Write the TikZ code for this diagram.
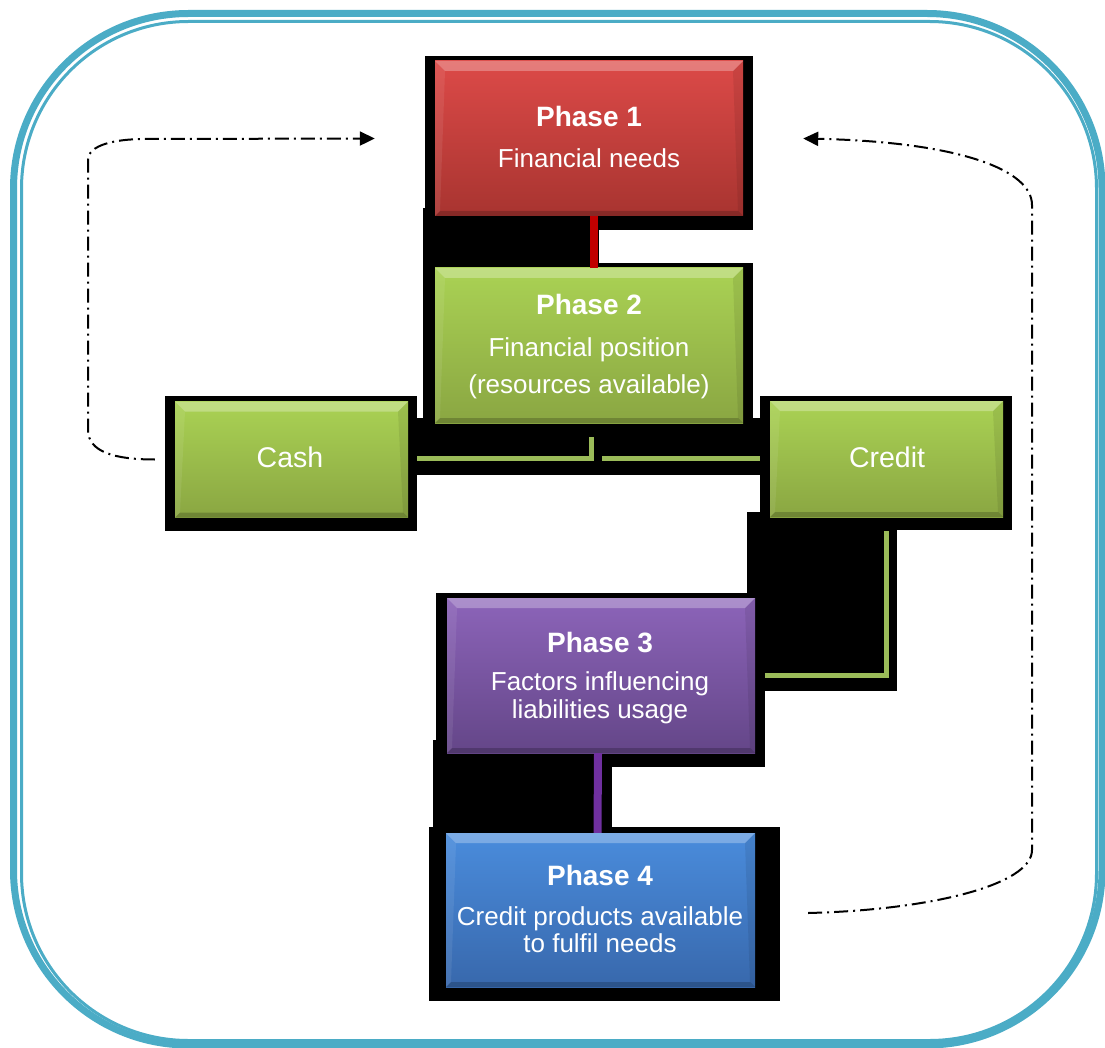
\documentclass[tikz,border=0pt]{standalone}
\usepackage{fontspec}
\setmainfont{Liberation Sans}
\usetikzlibrary{arrows.meta}

\definecolor{frameteal}{RGB}{75,172,198}
\definecolor{redtop}{RGB}{220,74,72}
\definecolor{redbot}{RGB}{168,52,48}
\definecolor{greentop}{RGB}{170,210,84}
\definecolor{greenbot}{RGB}{138,166,66}
\definecolor{purpletop}{RGB}{140,100,185}
\definecolor{purplebot}{RGB}{100,70,136}
\definecolor{bluetop}{RGB}{74,140,220}
\definecolor{bluebot}{RGB}{56,104,172}
\definecolor{linkred}{RGB}{192,0,0}
\definecolor{linkgreen}{RGB}{155,187,89}
\definecolor{linkpurple}{RGB}{112,48,160}

\tikzset{
  bevel/.style={path picture={
    % light top facet
    \fill[white,opacity=0.28] (path picture bounding box.north west) -- (path picture bounding box.north east)
      -- ([shift={(-10pt,-10pt)}]path picture bounding box.north east)
      -- ([shift={(10pt,-10pt)}]path picture bounding box.north west) -- cycle;
    % left facet
    \fill[white,opacity=0.08] (path picture bounding box.north west)
      -- ([shift={(10pt,-10pt)}]path picture bounding box.north west)
      -- ([shift={(5pt,5pt)}]path picture bounding box.south west)
      -- (path picture bounding box.south west) -- cycle;
    % right facet
    \fill[black,opacity=0.08] (path picture bounding box.north east)
      -- ([shift={(-10pt,-10pt)}]path picture bounding box.north east)
      -- ([shift={(-5pt,5pt)}]path picture bounding box.south east)
      -- (path picture bounding box.south east) -- cycle;
    % bottom facet
    \fill[black,opacity=0.2] (path picture bounding box.south west)
      -- ([shift={(5pt,5pt)}]path picture bounding box.south west)
      -- ([shift={(-5pt,5pt)}]path picture bounding box.south east)
      -- (path picture bounding box.south east) -- cycle;
  }},
  phasebox/.style={rectangle, draw=none, inner sep=0pt, minimum width=308pt, minimum height=155pt, bevel},
  smallbox/.style={rectangle, draw=none, inner sep=0pt, minimum width=233pt, minimum height=116pt, bevel},
  redfill/.style={top color=redtop, bottom color=redbot},
  greenfill/.style={top color=greentop, bottom color=greenbot},
  purplefill/.style={top color=purpletop, bottom color=purplebot},
  bluefill/.style={top color=bluetop, bottom color=bluebot},
  boxtext/.style={text=white, inner sep=0pt, anchor=base, font=\fontsize{26}{30}\selectfont},
  boxtitle/.style={text=white, inner sep=0pt, anchor=base, font=\fontsize{28}{32}\selectfont\bfseries},
  labeltext/.style={text=white, inner sep=0pt, anchor=base, font=\fontsize{28.5}{32}\selectfont},
  backdrop/.style={fill=black},
  redlink/.style={draw=linkred, line width=8pt},
  greenlink/.style={draw=linkgreen, line width=5pt},
  purplelink/.style={draw=linkpurple, line width=8pt},
  loopflow/.style={draw=black, line width=2pt, dash pattern=on 14pt off 5pt on 2pt off 5pt,
    -{Triangle[length=15pt,width=14pt]}},
}

\begin{document}
\begin{tikzpicture}[x=1pt,y=-1pt]
\useasboundingbox (0,0) rectangle (1105,1048);
\fill[white] (0,0) rectangle (1105,1048);

% double rounded frame
\draw[frameteal, line width=7pt, rounded corners=175pt] (13.5,13.5) rectangle (1102,1045);
\draw[frameteal, line width=3pt, rounded corners=167pt] (21.5,21.5) rectangle (1096.5,1040.5);

% black backdrops behind boxes and links
\fill[backdrop] (425,56) rectangle (753,230);
\fill[backdrop] (423,208) rectangle (599,268);
\fill[backdrop] (423,263) rectangle (753,430);
\fill[backdrop] (165,396) rectangle (417,531);
\fill[backdrop] (760,396) rectangle (1012,530);
\fill[backdrop] (417,418) rectangle (760,475);
\fill[backdrop] (747,512) rectangle (897,691);
\fill[backdrop] (436,593) rectangle (765,767);
\fill[backdrop] (433,740) rectangle (612,827);
\fill[backdrop] (429,827) rectangle (780,1001);

% boxes
\node[phasebox, redfill] (p1) at (589,138.5) {};
\node[phasebox, greenfill] (p2) at (589,345.5) {};
\node[smallbox, greenfill] (cash) at (291.5,459.5) {};
\node[smallbox, greenfill] (credit) at (886.5,459) {};
\node[phasebox, purplefill] (p3) at (601,675.5) {};
\node[phasebox, bluefill, minimum width=309pt, minimum height=154pt] (p4) at (600.5,910) {};

% box texts
\node[boxtitle] (p1t) at (589,127) {Phase 1};
\node[boxtext] (p1a) at (589,168) {Financial needs};
\node[boxtitle] (p2t) at (589,315) {Phase 2};
\node[boxtext] (p2a) at (589,356) {Financial position};
\node[boxtext] (p2b) at (589,393) {(resources available)};
\node[labeltext] (casht) at (290,467) {Cash};
\node[labeltext] (creditt) at (887,467) {Credit};
\node[boxtitle] (p3t) at (600,652) {Phase 3};
\node[boxtext] (p3a) at (600,690) {Factors influencing};
\node[boxtext] (p3b) at (600,718) {liabilities usage};
\node[boxtitle] (p4t) at (600,885) {Phase 4};
\node[boxtext] (p4a) at (600,925) {Credit products available};
\node[boxtext] (p4b) at (600,952) {to fulfil needs};

% links between boxes
\draw[redlink] ([xshift=5pt]p1.south) -- ([xshift=5pt]p2.north);
\draw[greenlink] ([xshift=9pt,yshift=1.5pt]cash.east) -| ([xshift=2pt,yshift=-14pt]p2.south);
\draw[greenlink] ([xshift=-10pt,yshift=1pt]credit.west) -- ++(-158,0);
\draw[greenlink] ([yshift=-14pt]credit.south) |- ([xshift=10pt]p3.east);
\draw[purplelink] ([xshift=-3pt]p3.south) -- ([xshift=-3pt]p4.north);

% feedback loops back to phase 1
\draw[loopflow] ([xshift=-20pt]cash.west) .. controls (115,459.5) and (88,452) .. (88,430)
  -- (88,160) .. controls (88,145) and (115,139) .. (145,139) -- ([xshift=-60pt]p1.west);
\draw[loopflow] ([xshift=53pt,yshift=-3pt]p4.east) .. controls (930,910) and (1032,885) .. (1032,850)
  -- (1032,205) .. controls (1032,170) and (960,142) .. ([xshift=60pt]p1.east);
\end{tikzpicture}
\end{document}
